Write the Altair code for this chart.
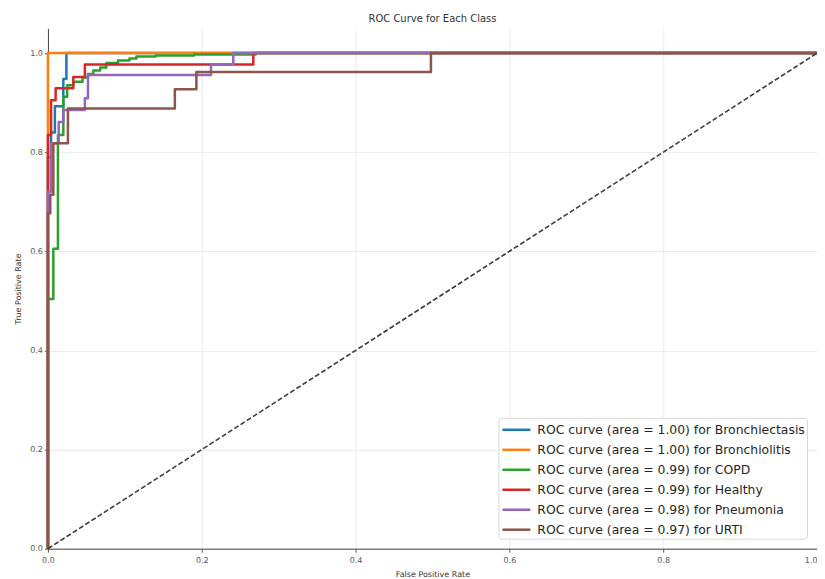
import altair as alt
import pandas as pd

# ---- data ----
labels = [
    "ROC curve (area = 1.00) for Bronchiectasis",
    "ROC curve (area = 1.00) for Bronchiolitis",
    "ROC curve (area = 0.99) for COPD",
    "ROC curve (area = 0.99) for Healthy",
    "ROC curve (area = 0.98) for Pneumonia",
    "ROC curve (area = 0.97) for URTI",
]
colors = ["#1f77b4", "#ff7f0e", "#2ca02c", "#d62728", "#9467bd", "#8c564b"]

fpr_bronchiectasis = [0, 0, 0.004, 0.004, 0.009, 0.009, 0.020, 0.020, 0.024, 0.024, 1.0]
tpr_bronchiectasis = [0, 0.79, 0.79, 0.84, 0.84, 0.893, 0.893, 0.948, 0.948, 1.0, 1.0]

fpr_bronchiolitis = [0, 0, 1.0]
tpr_bronchiolitis = [0, 1.0, 1.0]

fpr_copd = [0, 0, 0.007, 0.007, 0.013, 0.013, 0.020, 0.020, 0.025, 0.025, 0.033, 0.033,
            0.045, 0.045, 0.052, 0.052, 0.059, 0.059, 0.068, 0.068, 0.076, 0.076,
            0.091, 0.091, 0.106, 0.106, 0.115, 0.115, 0.14, 0.14, 0.19, 0.19, 0.27, 0.27, 1.0]
tpr_copd = [0, 0.504, 0.504, 0.605, 0.605, 0.835, 0.835, 0.912, 0.912, 0.935, 0.935, 0.942,
            0.942, 0.951, 0.951, 0.958, 0.958, 0.965, 0.965, 0.971, 0.971, 0.980,
            0.980, 0.985, 0.985, 0.989, 0.989, 0.993, 0.993, 0.995, 0.995, 0.997, 0.997, 1.0, 1.0]

fpr_healthy = [0, 0, 0.004, 0.004, 0.010, 0.010, 0.033, 0.033, 0.048, 0.048, 0.267, 0.267, 1.0]
tpr_healthy = [0, 0.835, 0.835, 0.905, 0.905, 0.929, 0.929, 0.952, 0.952, 0.977, 0.977, 1.0, 1.0]

fpr_pneumonia = [0, 0, 0.004, 0.004, 0.014, 0.014, 0.020, 0.020, 0.048, 0.048, 0.052, 0.052,
                 0.212, 0.212, 0.241, 0.241, 1.0]
tpr_pneumonia = [0, 0.72, 0.72, 0.818, 0.818, 0.861, 0.861, 0.885, 0.885, 0.909, 0.909, 0.956,
                 0.956, 0.977, 0.977, 1.0, 1.0]

fpr_urti = [0, 0, 0.003, 0.003, 0.007, 0.007, 0.026, 0.026, 0.165, 0.165, 0.193, 0.193, 0.498, 0.498, 1.0]
tpr_urti = [0, 0.677, 0.677, 0.714, 0.714, 0.818, 0.818, 0.888, 0.888, 0.927, 0.927, 0.962, 0.962, 1.0, 1.0]

diag_x = [0, 1]
diag_y = [0, 1]

axis_ticks = [0.0, 0.2, 0.4, 0.6, 0.8, 1.0]

series = [
    (fpr_bronchiectasis, tpr_bronchiectasis),
    (fpr_bronchiolitis, tpr_bronchiolitis),
    (fpr_copd, tpr_copd),
    (fpr_healthy, tpr_healthy),
    (fpr_pneumonia, tpr_pneumonia),
    (fpr_urti, tpr_urti),
]

color_scale = alt.Scale(domain=labels, range=colors)
x_scale = alt.Scale(domain=[0, 1], nice=False, zero=False)
y_scale = alt.Scale(domain=[0, 1.05], nice=False, zero=False)

x_axis = alt.Axis(values=axis_ticks, format=".1f", title="False Positive Rate",
                  titlePadding=6, labelFlush=False, labelPadding=4,
                  labelAlign=alt.expr("datum.value == 1 ? 'right' : 'center'"))
y_axis = alt.Axis(values=axis_ticks, format=".1f", title="True Positive Rate",
                  titlePadding=7, labelFlush=False, labelPadding=2)

legend = alt.Legend(
    title=None, orient="none", legendX=451, legendY=390,
    symbolType="M-0.91,0H2.29", symbolStrokeWidth=2.5, symbolSize=306,
    labelFont="DejaVu Sans", labelFontSize=12.4, labelColor="#262626",
    labelLimit=500, labelOffset=17, rowPadding=3,
    fillColor="white", strokeColor="#d6d6d6", cornerRadius=3, padding=2,
)

layers = []
for lab, (fx, ty) in zip(labels, series):
    df = pd.DataFrame({"fpr": fx, "tpr": ty, "label": lab, "idx": range(len(fx))})
    layers.append(
        alt.Chart(df).mark_line(strokeWidth=2.5, strokeJoin="round").encode(
            x=alt.X("fpr:Q", scale=x_scale, axis=x_axis),
            y=alt.Y("tpr:Q", scale=y_scale, axis=y_axis),
            color=alt.Color("label:N", scale=color_scale, legend=legend),
            order=alt.Order("idx:Q"),
        )
    )

diag_df = pd.DataFrame({"fpr": diag_x, "tpr": diag_y})
diag = alt.Chart(diag_df).mark_line(
    color="#3a3a3a", strokeWidth=1.6, strokeDash=[5, 2.4]
).encode(
    x=alt.X("fpr:Q", scale=x_scale, axis=x_axis),
    y=alt.Y("tpr:Q", scale=y_scale, axis=y_axis),
)
layers.append(diag)

chart = alt.layer(*layers).properties(
    width=770, height=521,
    title=alt.TitleParams("ROC Curve for Each Class", fontSize=10, font="DejaVu Sans",
                          fontWeight="normal", color="#333333", offset=4),
    autosize=alt.AutoSizeParams(type="none"),
    padding={"left": 40, "top": 20, "right": 0, "bottom": 30},
).configure_view(strokeWidth=0).configure_axis(
    labelFont="DejaVu Sans", labelFontSize=8, labelColor="#555555",
    tickColor="#555555", tickSize=3.5,
    domainColor="#444444", domainWidth=1,
    gridColor="#ebebeb", gridWidth=1,
    titleFont="DejaVu Sans", titleFontSize=8, titleFontWeight="normal", titleColor="#333333",
)

chart.save("out.html", embed_options={"renderer": "svg", "actions": False})
